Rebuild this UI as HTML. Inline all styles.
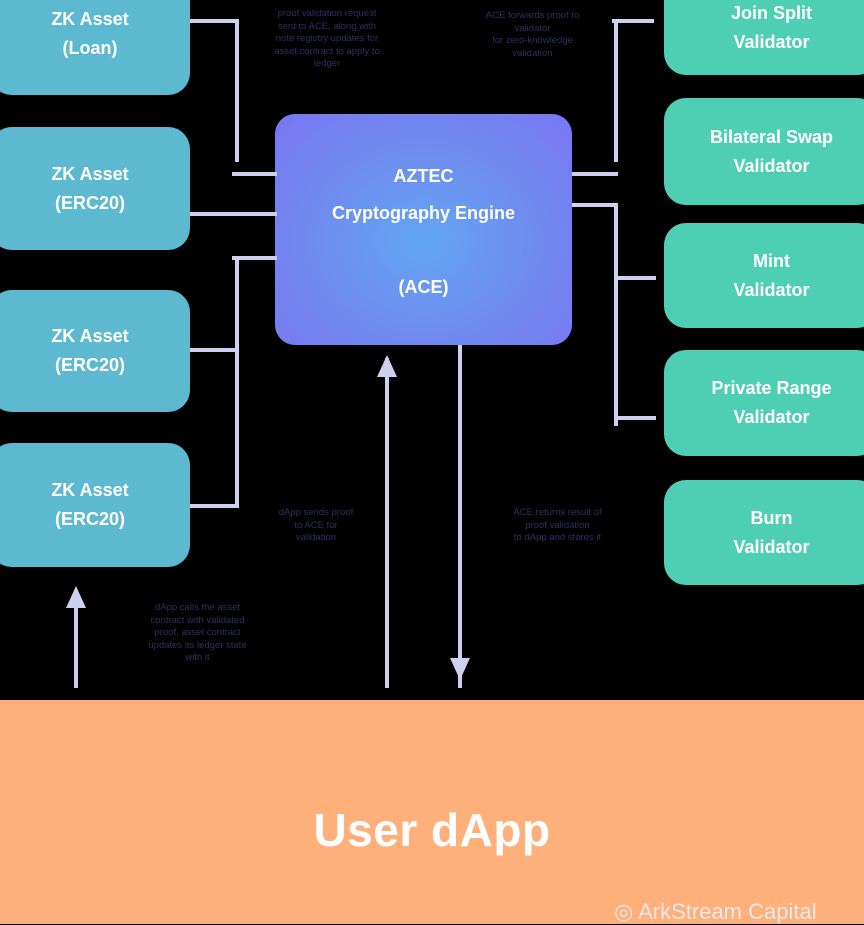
<!DOCTYPE html>
<html><head><meta charset="utf-8"><style>
body{margin:0;width:864px;height:924px;background:#000;position:relative;overflow:hidden;font-family:"Liberation Sans",sans-serif}
.b{position:absolute;display:flex;align-items:center;justify-content:center;text-align:center;color:#fff;font-weight:bold;font-size:18px;line-height:29px;border-radius:22px}
.l{background:#5db9cf;left:-10px;width:200px}
.r{background:#4ecfb3;left:664px;width:215px}
.h,.v{position:absolute;background:#cdd0ef}
.h{height:4px}.v{width:4px}
.t{position:absolute;color:#2c3260;font-size:9.5px;line-height:12.5px;text-align:center}
</style></head><body>
<div class="b l" style="top:-28px;height:123px">ZK Asset<br>(Loan)</div>
<div class="b l" style="top:127px;height:123px">ZK Asset<br>(ERC20)</div>
<div class="b l" style="top:290px;height:122px">ZK Asset<br>(ERC20)</div>
<div class="b l" style="top:443px;height:124px">ZK Asset<br>(ERC20)</div>
<div class="b r" style="top:-20px;height:95px">Join Split<br>Validator</div>
<div class="b r" style="top:98px;height:107px">Bilateral Swap<br>Validator</div>
<div class="b r" style="top:223px;height:105px">Mint<br>Validator</div>
<div class="b r" style="top:350px;height:106px">Private Range<br>Validator</div>
<div class="b r" style="top:480px;height:105px">Burn<br>Validator</div>
<div class="b" style="left:275px;top:114px;width:297px;height:231px;border-radius:20px;background:radial-gradient(ellipse at 50% 55%,#62a6f2 0%,#6f8cf0 50%,#7a76f2 100%);display:block">
<div style="position:absolute;top:48px;width:100%">AZTEC</div>
<div style="position:absolute;top:85px;width:100%">Cryptography Engine</div>
<div style="position:absolute;top:159px;width:100%">(ACE)</div></div>
<div class="h" style="left:190px;top:19px;width:49px"></div>
<div class="v" style="left:235px;top:19px;height:143px"></div>
<div class="h" style="left:232px;top:172px;width:45px"></div>
<div class="h" style="left:190px;top:212px;width:87px"></div>
<div class="h" style="left:232px;top:256px;width:45px"></div>
<div class="v" style="left:235px;top:256px;height:252px"></div>
<div class="h" style="left:190px;top:348px;width:49px"></div>
<div class="h" style="left:190px;top:504px;width:49px"></div>
<div class="h" style="left:612px;top:19px;width:42px"></div>
<div class="v" style="left:614px;top:19px;height:143px"></div>
<div class="h" style="left:572px;top:172px;width:46px"></div>
<div class="h" style="left:572px;top:203px;width:46px"></div>
<div class="v" style="left:614px;top:203px;height:223px"></div>
<div class="h" style="left:614px;top:276px;width:42px"></div>
<div class="h" style="left:614px;top:416px;width:42px"></div>
<div class="v" style="left:385px;top:358px;height:330px"></div>
<div style="position:absolute;left:377px;top:355px;width:0;height:0;border-left:10px solid transparent;border-right:10px solid transparent;border-bottom:22px solid #cdd0ef"></div>
<div class="v" style="left:458px;top:345px;height:343px"></div>
<div style="position:absolute;left:450px;top:658px;width:0;height:0;border-left:10px solid transparent;border-right:10px solid transparent;border-top:22px solid #cdd0ef"></div>
<div class="v" style="left:74px;top:590px;height:98px"></div>
<div style="position:absolute;left:66px;top:586px;width:0;height:0;border-left:10px solid transparent;border-right:10px solid transparent;border-bottom:22px solid #cdd0ef"></div>
<div class="t" style="left:262px;top:8px;width:130px">proof validation request<br>sent to ACE, along with<br>note registry updates for<br>asset contract to apply to<br>ledger</div>
<div class="t" style="left:470px;top:10px;width:125px">ACE forwards proof to<br>validator<br>for zero-knowledge<br>validation</div>
<div class="t" style="left:270px;top:507px;width:92px">dApp sends proof<br>to ACE for<br>validation</div>
<div class="t" style="left:495px;top:507px;width:125px">ACE returns result of<br>proof validation<br>to dApp and stores it</div>
<div class="t" style="left:120px;top:602px;width:155px">dApp calls the asset<br>contract with validated<br>proof, asset contract<br>updates its ledger state<br>with it</div>
<div style="position:absolute;left:0;top:700px;width:864px;height:224px;background:#ffaf7a"></div>
<div style="position:absolute;left:0;top:803px;width:864px;text-align:center;color:#fff;font-weight:bold;font-size:46px;letter-spacing:0.5px">User dApp</div>
<div style="position:absolute;left:614px;top:899px;color:#e8e8e8;font-size:22px;white-space:nowrap">◎ ArkStream Capital</div>
</body></html>
